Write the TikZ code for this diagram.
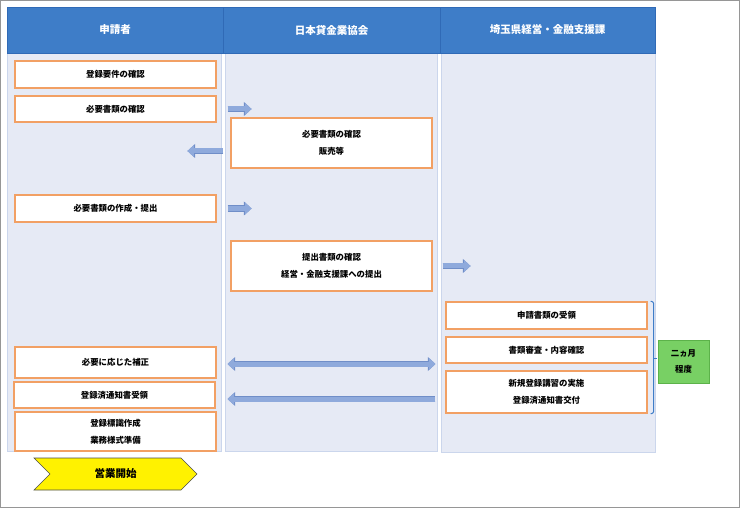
\documentclass[tikz,border=0pt]{standalone}
\usepackage{fontspec}
\setmainfont{Noto Sans CJK JP}
\usetikzlibrary{arrows.meta,positioning,shapes.symbols}

\definecolor{hdrfill}{RGB}{62,125,200}
\definecolor{hdrline}{RGB}{48,106,182}
\definecolor{lanefill}{RGB}{230,234,245}
\definecolor{laneline}{RGB}{203,214,236}
\definecolor{boxline}{RGB}{242,160,100}
\definecolor{arrfill}{RGB}{143,170,220}
\definecolor{arrline}{RGB}{112,142,200}
\definecolor{termfill}{RGB}{120,208,100}
\definecolor{termline}{RGB}{92,178,74}
\definecolor{frameline}{RGB}{150,150,150}

\begin{document}
\begin{tikzpicture}[x=1pt, y=-1pt]

		\tikzstyle{hdr}=[rectangle, fill=hdrfill, draw=hdrline, line width=0.8pt, text=white, font=\fontsize{10.5pt}{12pt}\selectfont\bfseries, minimum height=46pt]
		\tikzstyle{task}=[rectangle, fill=white, draw=boxline, line width=1.1pt, text=black, align=center, font=\fontsize{8.4pt}{17pt}\selectfont\bfseries, minimum width=201pt, inner sep=0pt]
		\tikzstyle{term}=[rectangle, fill=termfill, draw=termline, line width=0.8pt, text=black, align=center, font=\fontsize{8.4pt}{16pt}\selectfont\bfseries, minimum width=51pt, minimum height=43pt, inner sep=0pt]
		\tikzstyle{start}=[signal, signal to=east, signal from=west, fill=yellow, draw=black!70, line width=0.6pt, font=\fontsize{10.5pt}{12pt}\selectfont\bfseries, minimum width=163pt, minimum height=32pt, inner sep=0pt]
		\tikzstyle{flow}=[line width=5pt, draw=arrfill, -{Triangle[width=12pt,length=6.5pt,line width=0pt]},
			preaction={draw=arrline, line width=6.2pt, -{Triangle[width=14pt,length=7.6pt,line width=0pt]}}]
		\tikzstyle{flowboth}=[line width=5pt, draw=arrfill, {Triangle[width=12pt,length=6.5pt,line width=0pt]}-{Triangle[width=12pt,length=6.5pt,line width=0pt]},
			preaction={draw=arrline, line width=6.2pt, {Triangle[width=14pt,length=7.6pt,line width=0pt]}-{Triangle[width=14pt,length=7.6pt,line width=0pt]}}]
		\tikzstyle{span}=[draw=hdrfill, line width=1pt]

		\useasboundingbox (0,0) rectangle (740,508);
		\draw[frameline, line width=1pt] (0.5,0.5) rectangle (739.5,507.5);

		% swim lanes
		\filldraw[fill=lanefill, draw=laneline, line width=0.6pt] (7,53) rectangle (221,451);
		\filldraw[fill=lanefill, draw=laneline, line width=0.6pt] (225,53) rectangle (437,451);
		\filldraw[fill=lanefill, draw=laneline, line width=0.6pt] (441,53) rectangle (655,452);

		\node[hdr, minimum width=216pt] (hA) at (115,30)   {申請者};
		\node[hdr, minimum width=217pt] (hB) at (331.5,30) {日本貸金業協会};
		\node[hdr, minimum width=215pt] (hC) at (547.5,30) {埼玉県経営・金融支援課};

		% applicant
		\node[task, minimum height=27pt] (a1) at (115.5,74.5)  {登録要件の確認};
		\node[task, minimum height=26pt] (a2) at (115.5,109)   {必要書類の確認};
		\node[task, minimum height=27pt] (a3) at (115.5,208.5) {必要書類の作成・提出};
		\node[task, minimum height=31pt] (a4) at (115.5,362.5) {必要に応じた補正};
		\node[task, minimum height=26pt] (a5) at (114.5,395)   {登録済通知書受領};
		\node[task, minimum height=39pt] (a6) at (115.5,431.5) {登録標識作成\\業務様式準備};

		% association
		\node[task, minimum height=50pt] (b1) at (331.5,143) {必要書類の確認\\販売等};
		\node[task, minimum height=50pt] (b2) at (331.5,266) {提出書類の確認\\経営・金融支援課への提出};

		% prefecture
		\node[task, minimum height=27pt] (c1) at (546.5,315.5) {申請書類の受領};
		\node[task, minimum height=26pt] (c2) at (546.5,350)   {書類審査・内容確認};
		\node[task, minimum height=42pt] (c3) at (546.5,392)   {新規登録講習の実施\\登録済通知書交付};

		\node[term] (t) at (683.5,361.5) {二ヵ月\\程度};
		\node[start] (go) at (115.5,474) {営業開始};

		% flows
		\draw[flow] ([xshift=11pt]a2.east) -- ([xshift=35pt]a2.east);
		\draw[flow] ([xshift=-7pt,yshift=-8pt]b1.west) -- ([xshift=-43pt,yshift=-8pt]b1.west);
		\draw[flow] ([xshift=11pt]a3.east) -- ([xshift=35pt]a3.east);
		\draw[flow] ([xshift=10pt]b2.east) -- ([xshift=38pt]b2.east);
		\coordinate (fixL) at ([xshift=11pt,yshift=-1.5pt]a4.east);
		\coordinate (fixR) at ([xshift=-10pt]c2.west |- fixL);
		\draw[flowboth] (fixL) -- (fixR);
		\coordinate (noteR) at ([xshift=-10pt,yshift=-7pt]c3.west);
		\coordinate (noteL) at (noteR -| fixL);
		\draw[flow] (noteR) -- (noteL);

		% two months
		\draw[span, rounded corners=2pt] ([xshift=3pt]c1.north east) -| ([xshift=6pt]c2.east) |- ([xshift=3pt]c3.south east);
		\draw[span] ([xshift=6pt,yshift=-8pt]c2.east) -- ([xshift=9pt,yshift=-8pt]c2.east);
\end{tikzpicture}
\end{document}
